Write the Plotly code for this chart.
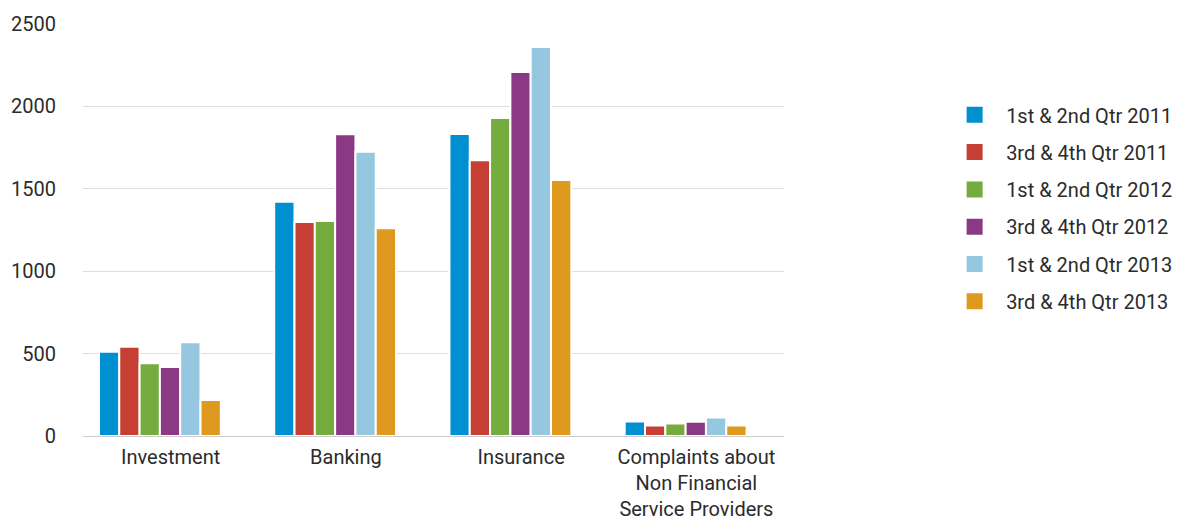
import plotly.graph_objects as go

categories = ["Investment", "Banking", "Insurance",
              "Complaints about<br>Non Financial<br>Service Providers"]
series_names = ["1st & 2nd Qtr 2011", "3rd & 4th Qtr 2011", "1st & 2nd Qtr 2012",
                "3rd & 4th Qtr 2012", "1st & 2nd Qtr 2013", "3rd & 4th Qtr 2013"]
q12_2011 = [511, 1422, 1833, 88]
q34_2011 = [542, 1299, 1673, 64]
q12_2012 = [441, 1305, 1930, 76]
q34_2012 = [419, 1831, 2209, 86]
q12_2013 = [569, 1725, 2361, 113]
q34_2013 = [218, 1260, 1553, 64]
series_values = [q12_2011, q34_2011, q12_2012, q34_2012, q12_2013, q34_2013]
colors = ["#008fd1", "#c63f35", "#76ab3e", "#8b3985", "#95c8e0", "#df991f"]
y_ticks = [0, 500, 1000, 1500, 2000, 2500]

FONT = "Roboto"
TXT = "#2b2b2b"

fig = go.Figure()
bar_w = 0.1159
start = -0.409
for i, (name, vals, col) in enumerate(zip(series_names, series_values, colors)):
    fig.add_trace(go.Bar(
        x=categories, y=vals, name=name, showlegend=False,
        marker=dict(color=col, line=dict(color="white", width=2)),
        width=bar_w, offset=start + i * bar_w,
        hoverinfo="x+y+name",
    ))
for i, (name, col) in enumerate(zip(series_names, colors)):
    fig.add_trace(go.Scatter(
        x=[None], y=[None], name=name, mode="markers",
        marker=dict(symbol="square", size=16, color=col),
        legendgroup=f"g{i}", showlegend=True,
    ))

fig.update_layout(
    width=1179, height=516,
    margin=dict(l=83, r=395, t=24, b=80, autoexpand=False),
    paper_bgcolor="white", plot_bgcolor="white",
    font=dict(family=FONT, size=20, color=TXT),
    barmode="overlay",
    showlegend=True,
    legend=dict(
        x=1.227, xanchor="left", xref="paper",
        y=0.827, yanchor="top",
        font=dict(family=FONT, size=20, color=TXT),
        tracegroupgap=8.3, itemwidth=53,
        bgcolor="rgba(0,0,0,0)",
    ),
    xaxis=dict(
        type="category", range=[-0.5, 3.5], automargin=False,
        showgrid=False, showline=True, linecolor="#cccccc", linewidth=1,
        ticks="", ticklabelstandoff=3,
        tickfont=dict(family=FONT, size=20, color=TXT),
    ),
    yaxis=dict(
        range=[0, 2500], tickvals=y_ticks, automargin=False,
        showgrid=True, gridcolor="#dddddd", gridwidth=1,
        zeroline=False, showline=False,
        ticks="", ticklabelstandoff=26,
        tickfont=dict(family=FONT, size=20, color=TXT),
    ),
)

fig.write_html("out.html")
